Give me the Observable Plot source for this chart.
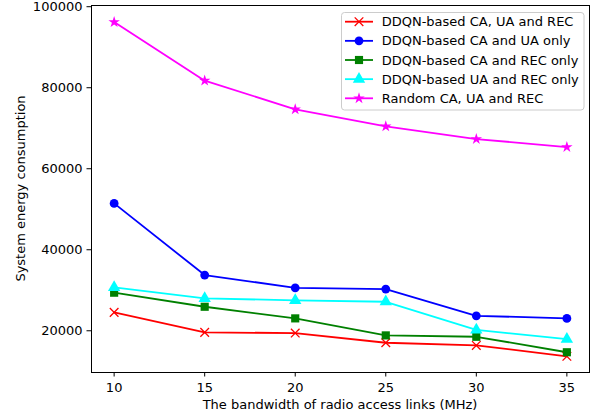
<!DOCTYPE html>
<html><head><meta charset="utf-8">
<script src="https://cdn.jsdelivr.net/npm/d3@7"></script>
<script src="https://cdn.jsdelivr.net/npm/@observablehq/plot@0.6"></script>
<style>body{margin:0;background:#fff;} svg{display:block}</style>
</head><body><div id="chart"></div>
<script>
const bandwidth = [10, 15, 20, 25, 30, 35];
const ddqnCaUaRec = [24540, 19600, 19430, 17040, 16390, 13700];
const ddqnCaUa = [51450, 33750, 30600, 30300, 23700, 23060];
const ddqnCaRec = [29400, 25930, 23060, 18860, 18520, 14700];
const ddqnUaRec = [30700, 28000, 27500, 27160, 20200, 17950];
const randomAll = [96200, 81750, 74660, 70470, 67330, 65360];

const seriesNames = [
  "DDQN-based CA, UA and REC",
  "DDQN-based CA and UA only",
  "DDQN-based CA and REC only",
  "DDQN-based UA and REC only",
  "Random CA, UA and REC"
];
const seriesValues = [ddqnCaUaRec, ddqnCaUa, ddqnCaRec, ddqnUaRec, randomAll];
const seriesColors = ["#ff0000", "#0000ff", "#008000", "#00ffff", "#ff00ff"];
const seriesSymbols = ["times", "circle", "square", "triangle", "star"];
const symbolRadius = [4, 4.4, 4.6, 4.6, 3.6];
const xTicks = [10, 15, 20, 25, 30, 35];
const yTicks = [20000, 40000, 60000, 80000, 100000];
const xLabel = "The bandwidth of radio access links (MHz)";
const yLabel = "System energy consumption";

const rows = [];
seriesValues.forEach((vals, i) => vals.forEach((v, j) => rows.push({series: seriesNames[i], x: bandwidth[j], y: v, idx: i})));

const W = 596, H = 418, mL = 91, mR = 7, mT = 5, mB = 46;
const font = "DejaVu Sans, sans-serif";

const dotMarks = seriesNames.map((name, i) => {
  const data = rows.filter(d => d.idx === i);
  return seriesSymbols[i] === "times"
    ? Plot.dot(data, {x: "x", y: "y", symbol: "times", stroke: seriesColors[i], r: symbolRadius[i], strokeWidth: 1.3})
    : Plot.dot(data, {x: "x", y: "y", symbol: seriesSymbols[i], fill: seriesColors[i], r: symbolRadius[i]});
});

const plot = Plot.plot({
  width: W, height: H, marginLeft: mL, marginRight: mR, marginTop: mT, marginBottom: mB,
  style: {fontFamily: font, fontSize: "13px", color: "#000", background: "#fff", overflow: "visible"},
  x: {domain: [8.75, 36.25]},
  y: {domain: [9700, 100300]},
  color: {domain: seriesNames, range: seriesColors},
  marks: [
    Plot.line(rows, {x: "x", y: "y", stroke: "series", z: "series", strokeWidth: 1.8}),
    ...dotMarks,
    Plot.axisX({ticks: xTicks, tickSize: 4.5, tickPadding: 6, label: null, tickFormat: d3.format("d")}),
    Plot.axisY({ticks: yTicks, tickSize: 4.5, tickPadding: 4.5, label: null, tickFormat: d3.format("d")}),
    Plot.frame({stroke: "#000", strokeWidth: 1})
  ]
});
document.getElementById("chart").appendChild(plot);

const svg = d3.select(plot);
// axis titles
svg.append("text").attr("x", (mL + W - mR) / 2).attr("y", 404).attr("dy", "0.35em")
  .attr("text-anchor", "middle").attr("font-family", font).attr("font-size", 13).attr("fill", "#000").text(xLabel);
svg.append("text").attr("transform", `translate(20.7,${(mT + H - mB) / 2}) rotate(-90)`).attr("dy", "0.35em")
  .attr("text-anchor", "middle").attr("font-family", font).attr("font-size", 13).attr("fill", "#000").text(yLabel);

// legend
const symMap = {times: d3.symbolTimes, circle: d3.symbolCircle, square: d3.symbolSquare, triangle: d3.symbolTriangle, star: d3.symbolStar};
const lg = svg.append("g").attr("text-anchor", "start");
lg.append("rect").attr("x", 341.5).attr("y", 12.5).attr("width", 242.5).attr("height", 97.5).attr("rx", 3)
  .style("fill", "#ffffff").style("fill-opacity", 0.8).style("stroke", "#cccccc").style("stroke-width", 1);
seriesNames.forEach((name, i) => {
  const y = 21.7 + i * 19.15;
  const g = lg.append("g");
  g.append("line").attr("x1", 345).attr("x2", 373).attr("y1", y).attr("y2", y)
    .style("stroke", seriesColors[i]).style("stroke-width", 1.8);
  const path = d3.symbol(symMap[seriesSymbols[i]], Math.PI * symbolRadius[i] * symbolRadius[i])();
  const p = g.append("path").attr("d", path).attr("transform", `translate(359,${y})`);
  if (seriesSymbols[i] === "times") p.style("fill", "none").style("stroke", seriesColors[i]).style("stroke-width", 1.3);
  else p.style("fill", seriesColors[i]).style("stroke", "none");
  g.append("text").attr("x", 381.7).attr("y", y).attr("dy", "0.35em").attr("text-anchor", "start")
    .attr("font-family", font).attr("font-size", 13).style("fill", "#000").text(name);
});
</script>
</body></html>
